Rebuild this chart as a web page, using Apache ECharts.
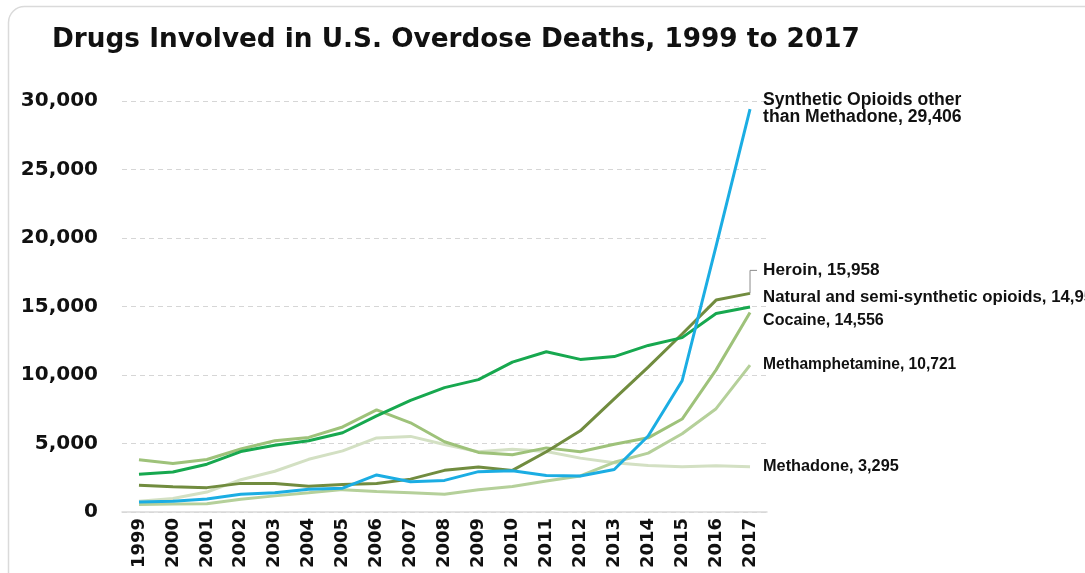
<!DOCTYPE html>
<html>
<head>
<meta charset="utf-8">
<title>Drugs Involved in U.S. Overdose Deaths, 1999 to 2017</title>
<script src="https://cdn.jsdelivr.net/npm/echarts@6/dist/echarts.min.js"></script>
<style>
  html, body { margin: 0; padding: 0; background: #ffffff; }
  #chart { width: 1085px; height: 573px; }
</style>
</head>
<body>
<div id="chart"></div>
<script>
// Overdose deaths by drug involved, United States
const years = ['1999', '2000', '2001', '2002', '2003', '2004', '2005', '2006', '2007', '2008',
               '2009', '2010', '2011', '2012', '2013', '2014', '2015', '2016', '2017'];

const syntheticOpioids = [730, 782, 957, 1295, 1400, 1664, 1742, 2707, 2213, 2306,
                          2946, 3007, 2666, 2628, 3105, 5544, 9580, 19413, 29406];
const heroin = [1960, 1842, 1779, 2089, 2080, 1878, 2009, 2088, 2399, 3041,
                3278, 3036, 4397, 5925, 8257, 10574, 12989, 15469, 15958];
const naturalOpioids = [2749, 2917, 3491, 4409, 4867, 5201, 5785, 7017, 8143, 9081,
                        9660, 10943, 11693, 11140, 11346, 12159, 12727, 14487, 14958];
const cocaine = [3822, 3544, 3833, 4599, 5199, 5443, 6208, 7448, 6512, 5129,
                 4350, 4183, 4681, 4404, 4944, 5415, 6784, 10375, 14556];
const methamphetamine = [547, 578, 598, 926, 1177, 1398, 1633, 1496, 1407, 1302,
                         1616, 1854, 2266, 2635, 3627, 4298, 5716, 7542, 10721];
const methadone = [784, 986, 1456, 2358, 2972, 3845, 4460, 5406, 5518, 4924,
                   4398, 4577, 4418, 3932, 3591, 3400, 3301, 3373, 3295];

// Value axis range and tick step
const yMin = 0;
const yMax = 30000;
const yStep = 5000;

const FONT = '"DejaVu Sans", "Liberation Sans", Arial, sans-serif';
const LABEL_FONT = '"Liberation Sans", Arial, Helvetica, sans-serif';
const fmt = v => v.toLocaleString('en-US');

function lineSeries(name, data, color, labelText, dy, size) {
  return {
    name: name,
    type: 'line',
    data: data,
    showSymbol: false,
    symbol: 'none',
    lineStyle: { width: 3, color: color },
    itemStyle: { color: color },
    endLabel: {
      show: true,
      formatter: labelText,
      distance: 0,
      offset: [13, dy],
      align: 'left',
      verticalAlign: 'middle',
      fontFamily: LABEL_FONT,
      fontSize: size,
      fontWeight: 'bold',
      lineHeight: 17,
      color: '#111111'
    }
  };
}

const chart = echarts.init(document.getElementById('chart'), null, { renderer: 'canvas' });

chart.setOption({
  animation: false,
  backgroundColor: '#ffffff',
  title: {
    text: 'Drugs Involved in U.S. Overdose Deaths, 1999 to 2017',
    left: 47,
    top: 22,
    textStyle: {
      fontFamily: FONT,
      fontSize: 26.3,
      fontWeight: 'bold',
      color: '#111111'
    }
  },
  grid: { left: 122, right: 318, top: 101, bottom: 61, containLabel: false },
  xAxis: {
    type: 'category',
    data: years,
    boundaryGap: true,
    axisLine: { show: true, lineStyle: { color: '#d9d9d9', width: 1.5 } },
    axisTick: { show: false },
    axisLabel: {
      rotate: 90,
      margin: 6,
      interval: 0,
      fontFamily: FONT,
      fontSize: 18,
      fontWeight: 'bold',
      color: '#111111'
    },
    splitLine: { show: false }
  },
  yAxis: {
    type: 'value',
    min: yMin,
    max: yMax,
    interval: yStep,
    axisLine: { show: false },
    axisTick: { show: false },
    axisLabel: {
      margin: 24,
      fontFamily: FONT,
      fontSize: 20,
      fontWeight: 'bold',
      color: '#111111',
      formatter: v => fmt(v)
    },
    splitLine: { show: true, lineStyle: { color: '#d6d6d6', type: [5, 4], width: 1 } }
  },
  series: [
    lineSeries('Methadone', methadone, '#d3e0c3', 'Methadone, ' + fmt(methadone[18]), 0, 16.3),
    lineSeries('Methamphetamine', methamphetamine, '#b5d09a', 'Methamphetamine, ' + fmt(methamphetamine[18]), 0, 15.6),
    lineSeries('Cocaine', cocaine, '#9ec27a', 'Cocaine, ' + fmt(cocaine[18]), 8, 16.1),
    lineSeries('Heroin', heroin, '#718c3f', 'Heroin, ' + fmt(heroin[18]), -23, 17.2),
    lineSeries('Natural and semi-synthetic opioids', naturalOpioids, '#17a84f',
               'Natural and semi-synthetic opioids, ' + fmt(naturalOpioids[18]), -10, 16.8),
    lineSeries('Synthetic Opioids other than Methadone', syntheticOpioids, '#1badE3',
               'Synthetic Opioids other\nthan Methadone, ' + fmt(syntheticOpioids[18]), 0, 17.6)
  ]
});

// Card frame and the leader line that ties the Heroin label to its line end
const last = years.length - 1;
const heroinEnd = chart.convertToPixel({ xAxisIndex: 0, yAxisIndex: 0 }, [last, heroin[last]]);
chart.setOption({
  graphic: [
    {
      type: 'rect',
      silent: true,
      z: -10,
      shape: { x: 8.5, y: 6.5, width: 1200, height: 700, r: 16 },
      style: { fill: 'none', stroke: '#dadada', lineWidth: 1.5 }
    },
    {
      type: 'polyline',
      silent: true,
      z: 10,
      shape: {
        points: [
          [heroinEnd[0], heroinEnd[1]],
          [heroinEnd[0], heroinEnd[1] - 23],
          [heroinEnd[0] + 7, heroinEnd[1] - 23]
        ]
      },
      style: { fill: 'none', stroke: '#8c8c8c', lineWidth: 1 }
    }
  ]
});
</script>
</body>
</html>
